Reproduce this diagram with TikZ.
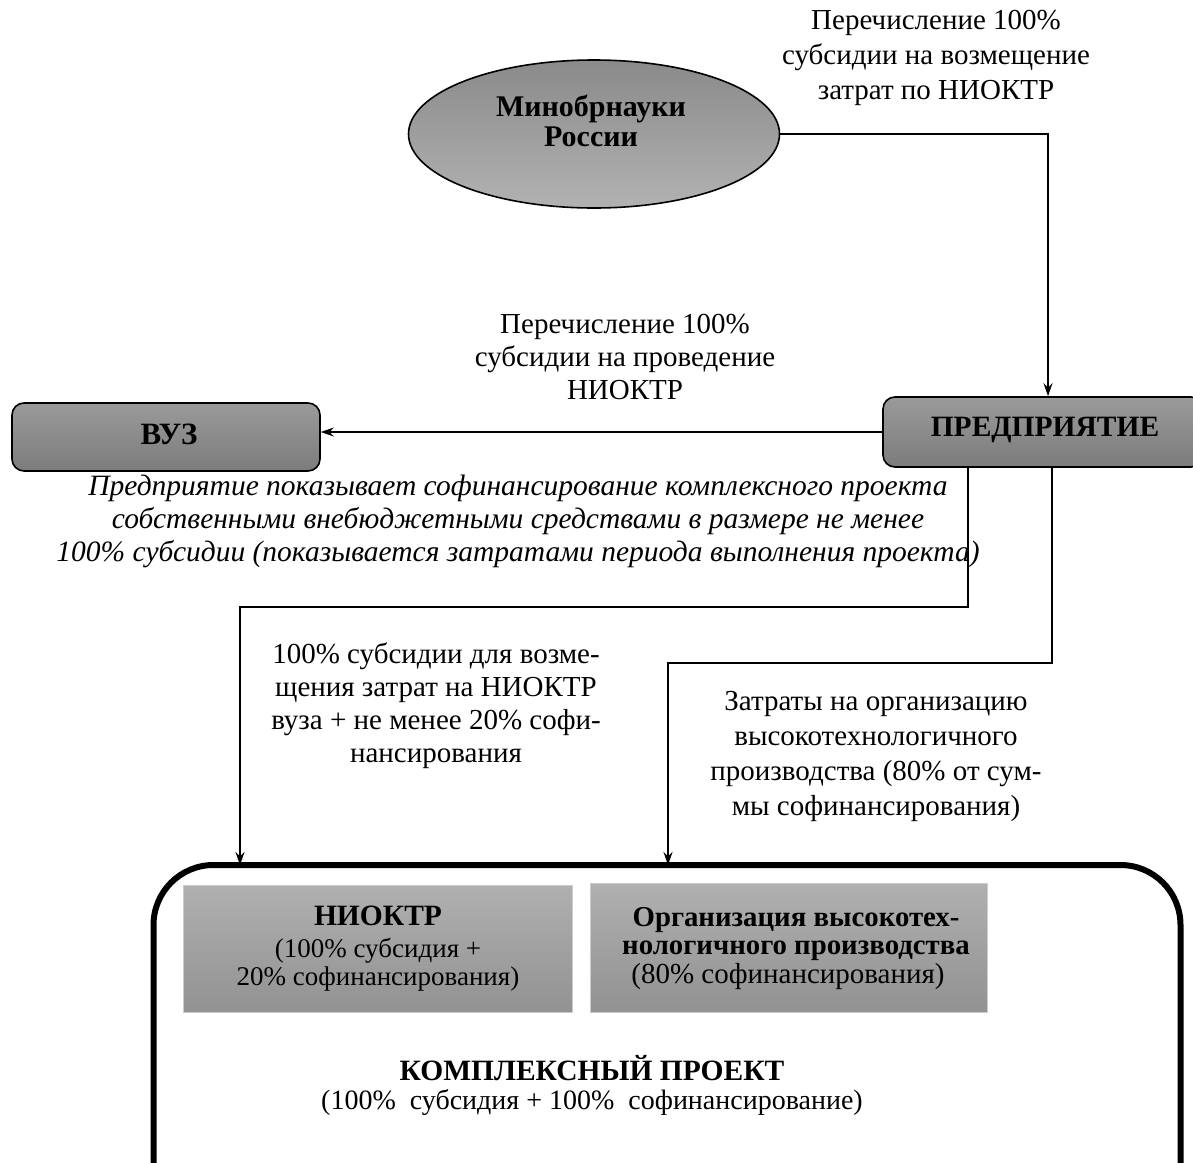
\documentclass[tikz,border=0pt]{standalone}
\usepackage{fontspec}
\setmainfont{Liberation Serif}
\usetikzlibrary{shapes.geometric,arrows.meta,calc}
\definecolor{gtop}{HTML}{8A8A8A}
\definecolor{gbot}{HTML}{B2B2B2}
\definecolor{btop}{HTML}{9A9A9A}
\definecolor{bbot}{HTML}{7C7C7C}
\definecolor{itop}{HTML}{B0B0B0}
\definecolor{ibot}{HTML}{929292}
\begin{document}
\begin{tikzpicture}[x=1pt,y=-1pt,
  lbl/.style={align=center,font=\fontsize{29}{34}\selectfont,inner sep=0pt},
  ital/.style={align=center,font=\fontsize{29.5}{33}\selectfont\itshape,inner sep=0pt},
  boxtitle/.style={font=\fontsize{29.5}{34}\selectfont\bfseries,inner sep=0pt,align=center},
  greybox/.style={draw=black,line width=1.6pt,rounded corners=12pt,top color=btop,bottom color=bbot,inner sep=0pt},
  innerbox/.style={draw=gray!40,line width=0.6pt,top color=itop,bottom color=ibot,inner sep=0pt},
  arr/.style={line width=1.6pt,-{Stealth[length=13pt,width=9pt]}}]
\useasboundingbox (0,0) rectangle (1193,1162);
\clip (0,0) rectangle (1193,1162);

% ellipse
\node[ellipse,draw=black,line width=1.6pt,top color=gtop,bottom color=gbot,
      minimum width=371pt,minimum height=148pt,inner sep=0pt] (mino) at (594,134) {};
\node[boxtitle,font=\fontsize{30}{30}\selectfont\bfseries] (minot) at (591,121) {Минобрнауки\\России};

% boxes
\node[greybox,minimum width=308pt,minimum height=68pt] (vuz) at (166,437) {};
\node[boxtitle,font=\fontsize{31}{34}\selectfont\bfseries] (vuzt) at (169,434) {ВУЗ};
\node[greybox,minimum width=320pt,minimum height=70pt] (pred) at (1043,432) {};
\node[boxtitle] (predt) at (1045,430) {ПРЕДПРИЯТИЕ};

% project
\node[draw=black,line width=6pt,rounded corners=60pt,minimum width=1027pt,minimum height=420pt,inner sep=0pt] (proj) at (667,1075) {};
\node[innerbox,minimum width=389pt,minimum height=127pt] (niok) at (377.5,948.5) {};
\node[innerbox,minimum width=397pt,minimum height=129pt] (org) at (788.5,947.5) {};
\node[boxtitle] (niokt) at (378,916) {НИОКТР};
\node[lbl,font=\fontsize{27}{28}\selectfont] (niokd) at (378,965) {(100\% субсидия +\\20\% софинансирования)};
\node[boxtitle,font=\fontsize{28.8}{28}\selectfont\bfseries] (orgt) at (796,934) {Организация высокотех-\\нологичного производства};
\node[lbl,font=\fontsize{29}{30}\selectfont] (orgd) at (788,977) {(80\% софинансирования)};
\node[boxtitle] (projt) at (592,1068) {КОМПЛЕКСНЫЙ ПРОЕКТ};
\node[lbl,font=\fontsize{28}{30}\selectfont] (projd) at (592,1102) {(100\%\ \ субсидия + 100\%\ \ софинансирование)};

% labels
\node[lbl,font=\fontsize{29}{35}\selectfont] (l1) at (936,58) {Перечисление 100\%\\субсидии на возмещение\\затрат по НИОКТР};
\node[lbl,font=\fontsize{29}{33}\selectfont] (l2) at (625,357) {Перечисление 100\%\\субсидии на проведение\\НИОКТР};
\node[ital] (l3) at (518,521) {Предприятие показывает софинансирование комплексного проекта\\собственными внебюджетными средствами в размере не менее\\100\% субсидии (показывается затратами периода выполнения проекта)};
\node[lbl,font=\fontsize{29}{33}\selectfont] (l4) at (436,706) {100\% субсидии для возме-\\щения затрат на НИОКТР\\вуза + не менее 20\% софи-\\нансирования};
\node[lbl,font=\fontsize{29}{35}\selectfont] (l5) at (876,756) {Затраты на организацию\\высокотехнологичного\\производства (80\% от сум-\\мы софинансирования)};

% connectors
\coordinate (c1) at (1048,134);
\draw[arr] (mino.east) -- (c1) -- (c1 |- pred.north);
\draw[arr] (pred.west) -- (pred.west -| vuz.east);
\coordinate (d1) at (968,607);
\coordinate (d2) at (240,607);
\draw[arr] (d1 |- pred.south) -- (d1) -- (d2) -- ([yshift=-3pt]d2 |- proj.north);
\coordinate (e1) at (1052,663);
\coordinate (e2) at (668,663);
\draw[arr] (e1 |- pred.south) -- (e1) -- (e2) -- ([yshift=-3pt]e2 |- proj.north);
\end{tikzpicture}
\end{document}
